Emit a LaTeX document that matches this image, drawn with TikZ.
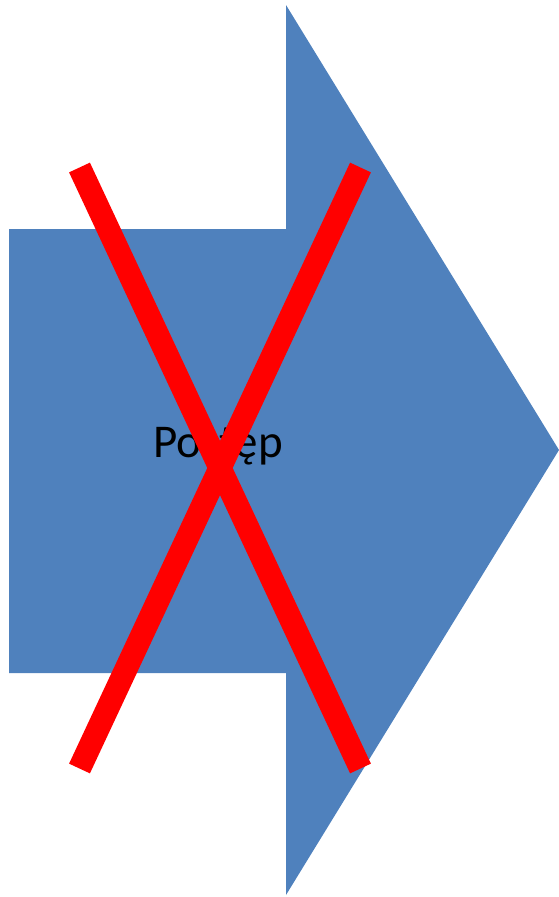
\documentclass[tikz,border=0pt]{standalone}
\usepackage{fontspec}
\setmainfont{Carlito}
\definecolor{arrowblue}{HTML}{4F81BD}
\definecolor{crossred}{HTML}{FF0000}
\begin{document}
\begin{tikzpicture}[x=1pt,y=-1pt,
  crossbar/.style={draw=crossred,line width=23pt,line cap=butt}]
\useasboundingbox (0,0) rectangle (559,897);
% block arrow pointing right
\fill[arrowblue] (9,229) -- (286,229) -- (286,5) -- (559,450) -- (286,895)
  -- (286,673) -- (9,673) -- cycle;
% label
\node[anchor=base,inner sep=0pt,font=\fontsize{47}{56}\selectfont] (label) at (218,457) {Postęp};
% cross end points
\coordinate (tl) at (79.5,167.5);
\coordinate (tr) at (360.5,167.5);
\coordinate (bl) at (79.5,768.5);
\coordinate (br) at (360.5,768.5);
\draw[crossbar] (tl) -- (br);
\draw[crossbar] (tr) -- (bl);
\end{tikzpicture}
\end{document}
